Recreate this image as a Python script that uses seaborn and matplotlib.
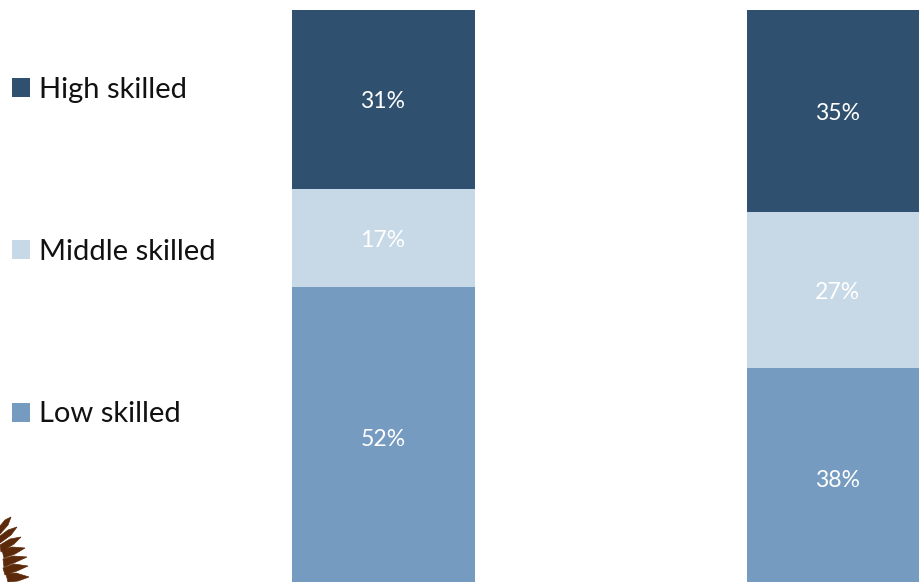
import matplotlib
matplotlib.use("Agg")
import matplotlib.pyplot as plt
from matplotlib.patches import Patch, Polygon
import pandas as pd
import seaborn as sns

groups = ["Group A", "Group B"]
low_skilled = [52, 38]
middle_skilled = [17, 27]
high_skilled = [31, 35]
series_names = ["High skilled", "Middle skilled", "Low skilled"]
series_colors = {"High skilled": "#2F506E", "Middle skilled": "#C7D8E6", "Low skilled": "#759BC1"}

# Fern frond leaflets in figure pixels, outlined from base round the tip
frond_leaves = [
    ((0, 526), (5, 520), (11, 517), (8, 525), (0, 534)),
    ((0, 536), (8, 530), (17, 527), (11, 535), (0, 543)),
    ((0, 545), (10, 539), (21, 537), (14, 544), (1, 552)),
    ((2, 550), (12, 547), (25, 548), (15, 554), (4, 558)),
    ((3, 559), (13, 556), (27, 557), (16, 562), (4, 567)),
    ((3, 568), (14, 564), (28, 566), (17, 571), (5, 575)),
    ((6, 574), (16, 573), (29, 577), (18, 581), (8, 582)),
]

sns.set_theme(style="white", rc={"font.family": ["Lato", "DejaVu Sans"]})

W, H = 919, 582
fig = plt.figure(figsize=(W / 100, H / 100), dpi=100)
ax = fig.add_axes([0, 0, 1, 1])

df = pd.DataFrame({
    "group": groups,
    "Low skilled": low_skilled,
    "Middle skilled": middle_skilled,
    "High skilled": high_skilled,
})

# Stack the three layers from the bottom up
bottom = [0, 0]
for name in ["Low skilled", "Middle skilled", "High skilled"]:
    sns.barplot(data=df, x="group", y=name, order=groups, color=series_colors[name],
                saturation=1, width=0.402, bottom=bottom, linewidth=0, ax=ax)
    for i, value in enumerate(df[name]):
        ax.annotate(f"{value}%", (i, bottom[i] + value / 2), xytext=(-0.5, -1.6),
                    textcoords="offset points", ha="center", va="center",
                    color="white", fontsize=16.6)
    bottom = [b + v for b, v in zip(bottom, df[name])]

px_per_group = 455
px_per_unit = 5.78
ax.set_xlim(-383.5 / px_per_group, (W - 383.5) / px_per_group)
ax.set_ylim(100 - (H - 10) / px_per_unit, 100 + 10 / px_per_unit)
ax.axis("off")

handles = [Patch(facecolor=series_colors[n], edgecolor="none", label=n) for n in series_names]
ax.legend(handles=handles, loc="upper left", bbox_to_anchor=(12 / W, 1 - 77 / H),
          bbox_transform=fig.transFigure, frameon=False, fontsize=21, labelspacing=4.67,
          handlelength=0.62, handleheight=0.62, handletextpad=0.3,
          borderpad=0, borderaxespad=0, labelcolor="#111111")

# Decorative fern in the lower-left corner
overlay = fig.add_axes([0, 0, 1, 1], facecolor="none")
overlay.set_xlim(0, W)
overlay.set_ylim(H, 0)
overlay.axis("off")
for leaf in frond_leaves:
    overlay.add_patch(Polygon(leaf, closed=True, facecolor="#5C2A0A", edgecolor="#5C2A0A", linewidth=0.5))

fig.savefig("out.png", dpi=100)
